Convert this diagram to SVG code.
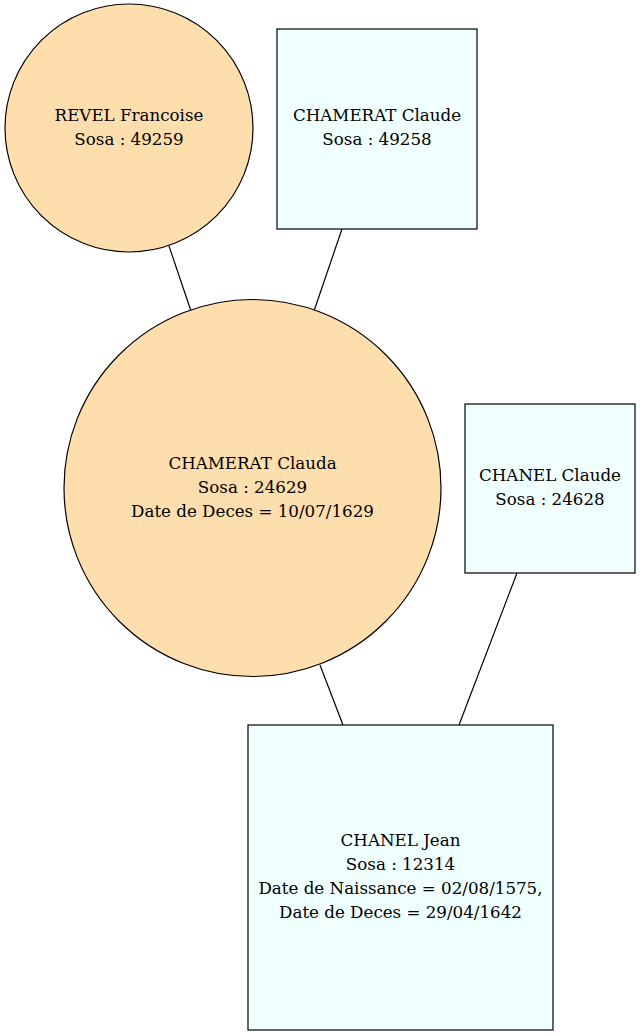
<svg xmlns="http://www.w3.org/2000/svg" width="640" height="1036" viewBox="0 0 640 1036">
<style>
.f{fill:#ffdead;stroke:#000;stroke-width:1.2}
.m{fill:#f0ffff;stroke:#000;stroke-width:1.2}
.e{stroke:#000;stroke-width:1.2;fill:none}
.t{font-family:'DejaVu Serif','Liberation Serif',serif;font-size:16.7px;text-anchor:middle;fill:#000}
</style>
<rect width="640" height="1036" fill="#fff"/>
<g id="edges">
<line class="e" x1="169" y1="246" x2="191" y2="311"/>
<line class="e" x1="342" y1="229" x2="314" y2="311"/>
<line class="e" x1="320" y1="665" x2="343" y2="725"/>
<line class="e" x1="517" y1="573" x2="459" y2="725"/>
</g>
<g id="revel">
<circle class="f" cx="129" cy="128" r="124"/>
<text class="t" x="129" y="121">REVEL Francoise</text>
<text class="t" x="129" y="145">Sosa : 49259</text>
</g>
<g id="chamerat-claude">
<rect class="m" x="277" y="29" width="200" height="200"/>
<text class="t" x="377" y="121">CHAMERAT Claude</text>
<text class="t" x="377" y="145">Sosa : 49258</text>
</g>
<g id="chamerat-clauda">
<circle class="f" cx="252.5" cy="488" r="188.5"/>
<text class="t" x="252.5" y="469">CHAMERAT Clauda</text>
<text class="t" x="252.5" y="493">Sosa : 24629</text>
<text class="t" x="252.5" y="517">Date de Deces = 10/07/1629</text>
</g>
<g id="chanel-claude">
<rect class="m" x="465" y="404" width="170" height="169"/>
<text class="t" x="550" y="481">CHANEL Claude</text>
<text class="t" x="550" y="505">Sosa : 24628</text>
</g>
<g id="chanel-jean">
<rect class="m" x="248" y="725" width="305" height="305"/>
<text class="t" x="400.5" y="846">CHANEL Jean</text>
<text class="t" x="400.5" y="870">Sosa : 12314</text>
<text class="t" x="400.5" y="894">Date de Naissance = 02/08/1575,</text>
<text class="t" x="400.5" y="918">Date de Deces = 29/04/1642</text>
</g>
</svg>
